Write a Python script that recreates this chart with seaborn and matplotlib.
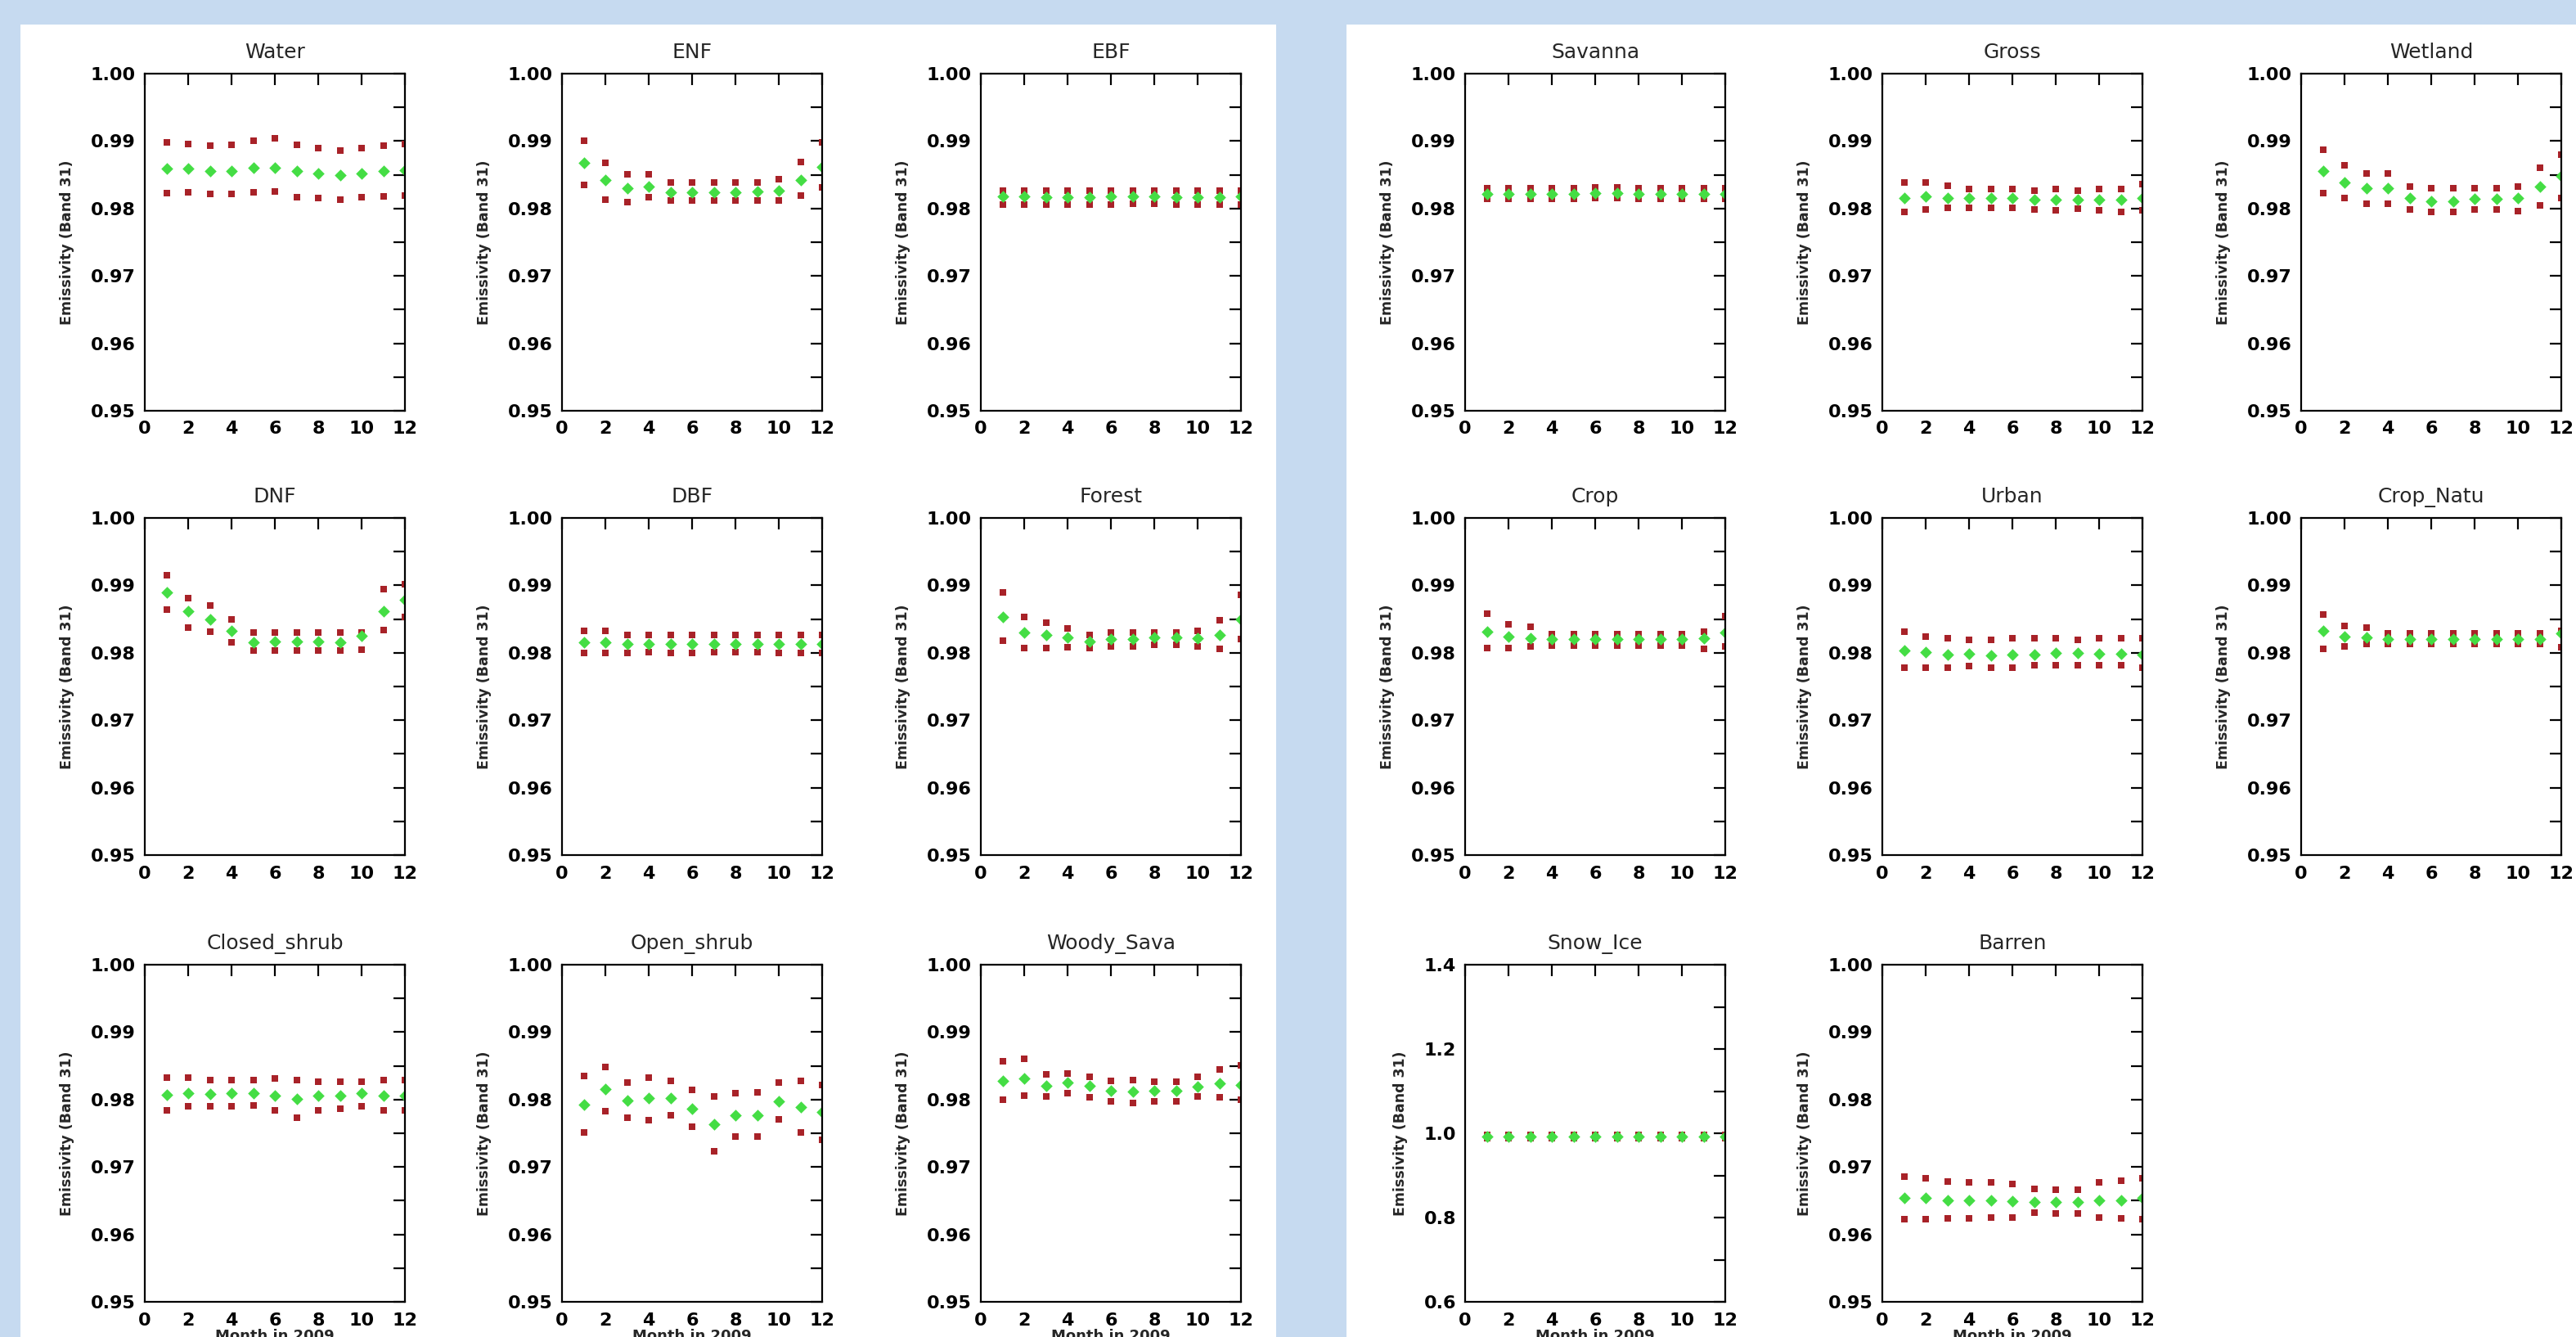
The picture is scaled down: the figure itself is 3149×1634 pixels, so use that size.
import numpy as np
import pandas as pd
import seaborn as sns
import matplotlib.pyplot as plt
from matplotlib.patches import Rectangle

# monthly emissivity (band 31) per land cover class: mean and mean +/- std
months = list(range(1, 13))

water_hi = [0.9898, 0.9896, 0.9893, 0.9895, 0.9900, 0.9904, 0.9895, 0.9890, 0.9886, 0.9889, 0.9893, 0.9896]
water_mean = [0.9859, 0.9859, 0.9855, 0.9855, 0.9861, 0.9861, 0.9855, 0.9852, 0.9849, 0.9852, 0.9855, 0.9857]
water_lo = [0.9823, 0.9824, 0.9822, 0.9821, 0.9824, 0.9825, 0.9817, 0.9815, 0.9813, 0.9817, 0.9818, 0.9819]

enf_hi = [0.9901, 0.9868, 0.9851, 0.9851, 0.9838, 0.9838, 0.9838, 0.9838, 0.9839, 0.9844, 0.9869, 0.9898]
enf_mean = [0.9868, 0.9842, 0.9830, 0.9833, 0.9824, 0.9824, 0.9824, 0.9824, 0.9825, 0.9827, 0.9842, 0.9862]
enf_lo = [0.9835, 0.9813, 0.9810, 0.9817, 0.9812, 0.9812, 0.9812, 0.9812, 0.9812, 0.9812, 0.9819, 0.9831]

ebf_hi = [0.9827, 0.9827, 0.9826, 0.9826, 0.9827, 0.9827, 0.9827, 0.9827, 0.9826, 0.9826, 0.9827, 0.9827]
ebf_mean = [0.9818, 0.9818, 0.9817, 0.9817, 0.9817, 0.9818, 0.9818, 0.9818, 0.9817, 0.9817, 0.9817, 0.9818]
ebf_lo = [0.9806, 0.9806, 0.9806, 0.9806, 0.9806, 0.9806, 0.9807, 0.9807, 0.9806, 0.9806, 0.9806, 0.9806]

dnf_hi = [0.9915, 0.9881, 0.9870, 0.9849, 0.9830, 0.9830, 0.9830, 0.9830, 0.9830, 0.9830, 0.9894, 0.9902]
dnf_mean = [0.9889, 0.9862, 0.9850, 0.9832, 0.9816, 0.9817, 0.9817, 0.9817, 0.9816, 0.9825, 0.9862, 0.9879]
dnf_lo = [0.9864, 0.9837, 0.9831, 0.9815, 0.9804, 0.9804, 0.9804, 0.9804, 0.9803, 0.9805, 0.9834, 0.9853]

dbf_hi = [0.9832, 0.9832, 0.9827, 0.9826, 0.9826, 0.9826, 0.9826, 0.9826, 0.9826, 0.9826, 0.9826, 0.9826]
dbf_mean = [0.9815, 0.9815, 0.9813, 0.9813, 0.9813, 0.9813, 0.9813, 0.9813, 0.9813, 0.9813, 0.9813, 0.9813]
dbf_lo = [0.9800, 0.9800, 0.9800, 0.9801, 0.9800, 0.9800, 0.9801, 0.9801, 0.9801, 0.9800, 0.9800, 0.9800]

forest_hi = [0.9890, 0.9853, 0.9845, 0.9836, 0.9826, 0.9830, 0.9830, 0.9830, 0.9830, 0.9833, 0.9848, 0.9886]
forest_mean = [0.9853, 0.9830, 0.9826, 0.9823, 0.9817, 0.9820, 0.9820, 0.9823, 0.9823, 0.9821, 0.9827, 0.9850]
forest_lo = [0.9818, 0.9807, 0.9807, 0.9808, 0.9807, 0.9809, 0.9810, 0.9812, 0.9812, 0.9809, 0.9806, 0.9820]

cshrub_hi = [0.9832, 0.9832, 0.9829, 0.9829, 0.9829, 0.9831, 0.9829, 0.9827, 0.9827, 0.9827, 0.9829, 0.9829]
cshrub_mean = [0.9807, 0.9810, 0.9808, 0.9809, 0.9810, 0.9806, 0.9801, 0.9806, 0.9806, 0.9809, 0.9806, 0.9806]
cshrub_lo = [0.9784, 0.9790, 0.9790, 0.9790, 0.9791, 0.9784, 0.9773, 0.9784, 0.9786, 0.9790, 0.9784, 0.9784]

oshrub_hi = [0.9835, 0.9848, 0.9825, 0.9833, 0.9828, 0.9814, 0.9805, 0.9810, 0.9811, 0.9825, 0.9828, 0.9822]
oshrub_mean = [0.9792, 0.9816, 0.9799, 0.9802, 0.9802, 0.9787, 0.9763, 0.9777, 0.9777, 0.9797, 0.9789, 0.9781]
oshrub_lo = [0.9751, 0.9783, 0.9773, 0.9770, 0.9777, 0.9760, 0.9723, 0.9745, 0.9745, 0.9771, 0.9751, 0.9740]

wsava_hi = [0.9857, 0.9860, 0.9837, 0.9839, 0.9834, 0.9828, 0.9829, 0.9827, 0.9827, 0.9834, 0.9845, 0.9851]
wsava_mean = [0.9828, 0.9831, 0.9820, 0.9825, 0.9820, 0.9813, 0.9812, 0.9813, 0.9813, 0.9819, 0.9824, 0.9822]
wsava_lo = [0.9800, 0.9806, 0.9805, 0.9809, 0.9804, 0.9797, 0.9795, 0.9797, 0.9797, 0.9805, 0.9804, 0.9800]

savanna_hi = [0.9830, 0.9830, 0.9830, 0.9830, 0.9830, 0.9831, 0.9831, 0.9830, 0.9830, 0.9830, 0.9830, 0.9830]
savanna_mean = [0.9822, 0.9822, 0.9822, 0.9822, 0.9822, 0.9823, 0.9823, 0.9822, 0.9822, 0.9822, 0.9822, 0.9822]
savanna_lo = [0.9814, 0.9814, 0.9814, 0.9814, 0.9814, 0.9815, 0.9815, 0.9814, 0.9814, 0.9814, 0.9814, 0.9814]

gross_hi = [0.9839, 0.9839, 0.9834, 0.9829, 0.9829, 0.9829, 0.9826, 0.9829, 0.9826, 0.9829, 0.9829, 0.9836]
gross_mean = [0.9816, 0.9818, 0.9816, 0.9815, 0.9815, 0.9815, 0.9813, 0.9813, 0.9813, 0.9813, 0.9813, 0.9816]
gross_lo = [0.9795, 0.9799, 0.9801, 0.9801, 0.9801, 0.9801, 0.9799, 0.9797, 0.9800, 0.9797, 0.9795, 0.9797]

wetland_hi = [0.9887, 0.9864, 0.9852, 0.9852, 0.9833, 0.9830, 0.9830, 0.9830, 0.9830, 0.9833, 0.9860, 0.9880]
wetland_mean = [0.9855, 0.9839, 0.9830, 0.9830, 0.9816, 0.9811, 0.9811, 0.9814, 0.9814, 0.9815, 0.9832, 0.9848]
wetland_lo = [0.9823, 0.9815, 0.9807, 0.9807, 0.9798, 0.9795, 0.9795, 0.9798, 0.9798, 0.9796, 0.9805, 0.9816]

crop_hi = [0.9858, 0.9842, 0.9838, 0.9828, 0.9828, 0.9828, 0.9828, 0.9828, 0.9828, 0.9828, 0.9831, 0.9854]
crop_mean = [0.9831, 0.9824, 0.9822, 0.9820, 0.9820, 0.9820, 0.9820, 0.9820, 0.9820, 0.9820, 0.9821, 0.9830]
crop_lo = [0.9807, 0.9807, 0.9809, 0.9811, 0.9811, 0.9811, 0.9811, 0.9811, 0.9811, 0.9811, 0.9806, 0.9809]

urban_hi = [0.9831, 0.9824, 0.9821, 0.9819, 0.9819, 0.9821, 0.9821, 0.9821, 0.9819, 0.9821, 0.9821, 0.9821]
urban_mean = [0.9803, 0.9801, 0.9797, 0.9799, 0.9796, 0.9797, 0.9797, 0.9800, 0.9800, 0.9799, 0.9799, 0.9797]
urban_lo = [0.9778, 0.9778, 0.9778, 0.9780, 0.9778, 0.9778, 0.9781, 0.9781, 0.9781, 0.9781, 0.9781, 0.9778]

cnatu_hi = [0.9857, 0.9840, 0.9837, 0.9829, 0.9829, 0.9829, 0.9829, 0.9829, 0.9829, 0.9829, 0.9829, 0.9833]
cnatu_mean = [0.9832, 0.9824, 0.9823, 0.9820, 0.9820, 0.9820, 0.9820, 0.9820, 0.9820, 0.9820, 0.9820, 0.9829]
cnatu_lo = [0.9806, 0.9809, 0.9813, 0.9813, 0.9813, 0.9813, 0.9813, 0.9813, 0.9813, 0.9813, 0.9813, 0.9808]

snow_hi = [0.9960, 0.9960, 0.9960, 0.9960, 0.9960, 0.9960, 0.9960, 0.9960, 0.9960, 0.9960, 0.9960, 0.9960]
snow_mean = [0.9925, 0.9925, 0.9925, 0.9925, 0.9925, 0.9925, 0.9925, 0.9925, 0.9925, 0.9925, 0.9925, 0.9925]
snow_lo = [0.9890, 0.9890, 0.9890, 0.9890, 0.9890, 0.9890, 0.9890, 0.9890, 0.9890, 0.9890, 0.9890, 0.9890]

barren_hi = [0.9686, 0.9683, 0.9679, 0.9677, 0.9677, 0.9675, 0.9668, 0.9666, 0.9666, 0.9677, 0.9680, 0.9683]
barren_mean = [0.9654, 0.9654, 0.9651, 0.9651, 0.9651, 0.9649, 0.9648, 0.9648, 0.9648, 0.9651, 0.9651, 0.9654]
barren_lo = [0.9623, 0.9623, 0.9624, 0.9624, 0.9625, 0.9625, 0.9632, 0.9631, 0.9631, 0.9625, 0.9624, 0.9623]

# (title, hi, mean, lo, side, row, col)
panels = [
    ('Water', water_hi, water_mean, water_lo, 0, 0, 0),
    ('ENF', enf_hi, enf_mean, enf_lo, 0, 0, 1),
    ('EBF', ebf_hi, ebf_mean, ebf_lo, 0, 0, 2),
    ('DNF', dnf_hi, dnf_mean, dnf_lo, 0, 1, 0),
    ('DBF', dbf_hi, dbf_mean, dbf_lo, 0, 1, 1),
    ('Forest', forest_hi, forest_mean, forest_lo, 0, 1, 2),
    ('Closed_shrub', cshrub_hi, cshrub_mean, cshrub_lo, 0, 2, 0),
    ('Open_shrub', oshrub_hi, oshrub_mean, oshrub_lo, 0, 2, 1),
    ('Woody_Sava', wsava_hi, wsava_mean, wsava_lo, 0, 2, 2),
    ('Savanna', savanna_hi, savanna_mean, savanna_lo, 1, 0, 0),
    ('Gross', gross_hi, gross_mean, gross_lo, 1, 0, 1),
    ('Wetland', wetland_hi, wetland_mean, wetland_lo, 1, 0, 2),
    ('Crop', crop_hi, crop_mean, crop_lo, 1, 1, 0),
    ('Urban', urban_hi, urban_mean, urban_lo, 1, 1, 1),
    ('Crop_Natu', cnatu_hi, cnatu_mean, cnatu_lo, 1, 1, 2),
    ('Snow_Ice', snow_hi, snow_mean, snow_lo, 1, 2, 0),
    ('Barren', barren_hi, barren_mean, barren_lo, 1, 2, 1),
]

sns.set_style("white")
plt.rcParams['font.family'] = ['DejaVu Sans']

W, H = 3149, 1634
fig = plt.figure(figsize=(W / 100, H / 100), dpi=100)
fig.patch.set_facecolor('#c6daf0')

# two white sheets on the blue background, kept behind the axes
for x_left, x_right in [(25, 1560), (1646, W)]:
    fig.patches.append(Rectangle((x_left / W, 0), (x_right - x_left) / W, (H - 30) / H,
                                 transform=fig.transFigure, facecolor='white',
                                 edgecolor='none', zorder=-10))

col_x = [[177, 687, 1199], [1791, 2301, 2813]]
row_top = [90, 633, 1179]
aw, ah = 318, 412

red = '#a82228'
green = '#44dd44'

for title, hi, mean, lo, side, r, c in panels:
    x0 = col_x[side][c]
    y0 = row_top[r]
    ax = fig.add_axes([x0 / W, 1 - (y0 + ah) / H, aw / W, ah / H], zorder=5)

    bounds = pd.DataFrame({'month': months * 2, 'value': hi + lo})
    centre = pd.DataFrame({'month': months, 'value': mean})
    sns.scatterplot(data=bounds, x='month', y='value', marker='s', s=30, color=red,
                    linewidth=0, ax=ax, legend=False)
    sns.scatterplot(data=centre, x='month', y='value', marker='D', s=55, color=green,
                    linewidth=0, ax=ax, legend=False)

    ax.set_xlim(0, 12)
    ax.set_xticks(range(0, 13, 2))
    if title == 'Snow_Ice':
        ax.set_ylim(0.6, 1.4)
        ax.set_yticks([0.6, 0.8, 1.0, 1.2, 1.4], ['0.6', '0.8', '1.0', '1.2', '1.4'])
        ax.set_yticks([0.7, 0.9, 1.1, 1.3], minor=True)
    else:
        ax.set_ylim(0.95, 1.0)
        ax.set_yticks([0.95, 0.96, 0.97, 0.98, 0.99, 1.00],
                      ['0.95', '0.96', '0.97', '0.98', '0.99', '1.00'])
        ax.set_yticks([0.955, 0.965, 0.975, 0.985, 0.995], minor=True)

    ax.tick_params(axis='both', which='both', direction='in', top=True, right=True,
                   length=10, width=1.6, labelsize=16, colors='black')
    ax.tick_params(axis='x', pad=9)
    ax.tick_params(axis='y', pad=8)
    for lab in ax.get_xticklabels() + ax.get_yticklabels():
        lab.set_fontweight('bold')
    for sp in ax.spines.values():
        sp.set_linewidth(1.6)
        sp.set_color('black')

    ax.set_title(title, fontsize=18, pad=14)
    ax.set_ylabel('Emissivity (Band 31)', fontsize=12.5, fontweight='bold', labelpad=14)
    if r == 2:
        ax.set_xlabel('Month in 2009', fontsize=13, fontweight='bold', labelpad=0)
    else:
        ax.set_xlabel('')

fig.savefig('out.png', dpi=100, facecolor=fig.get_facecolor())
